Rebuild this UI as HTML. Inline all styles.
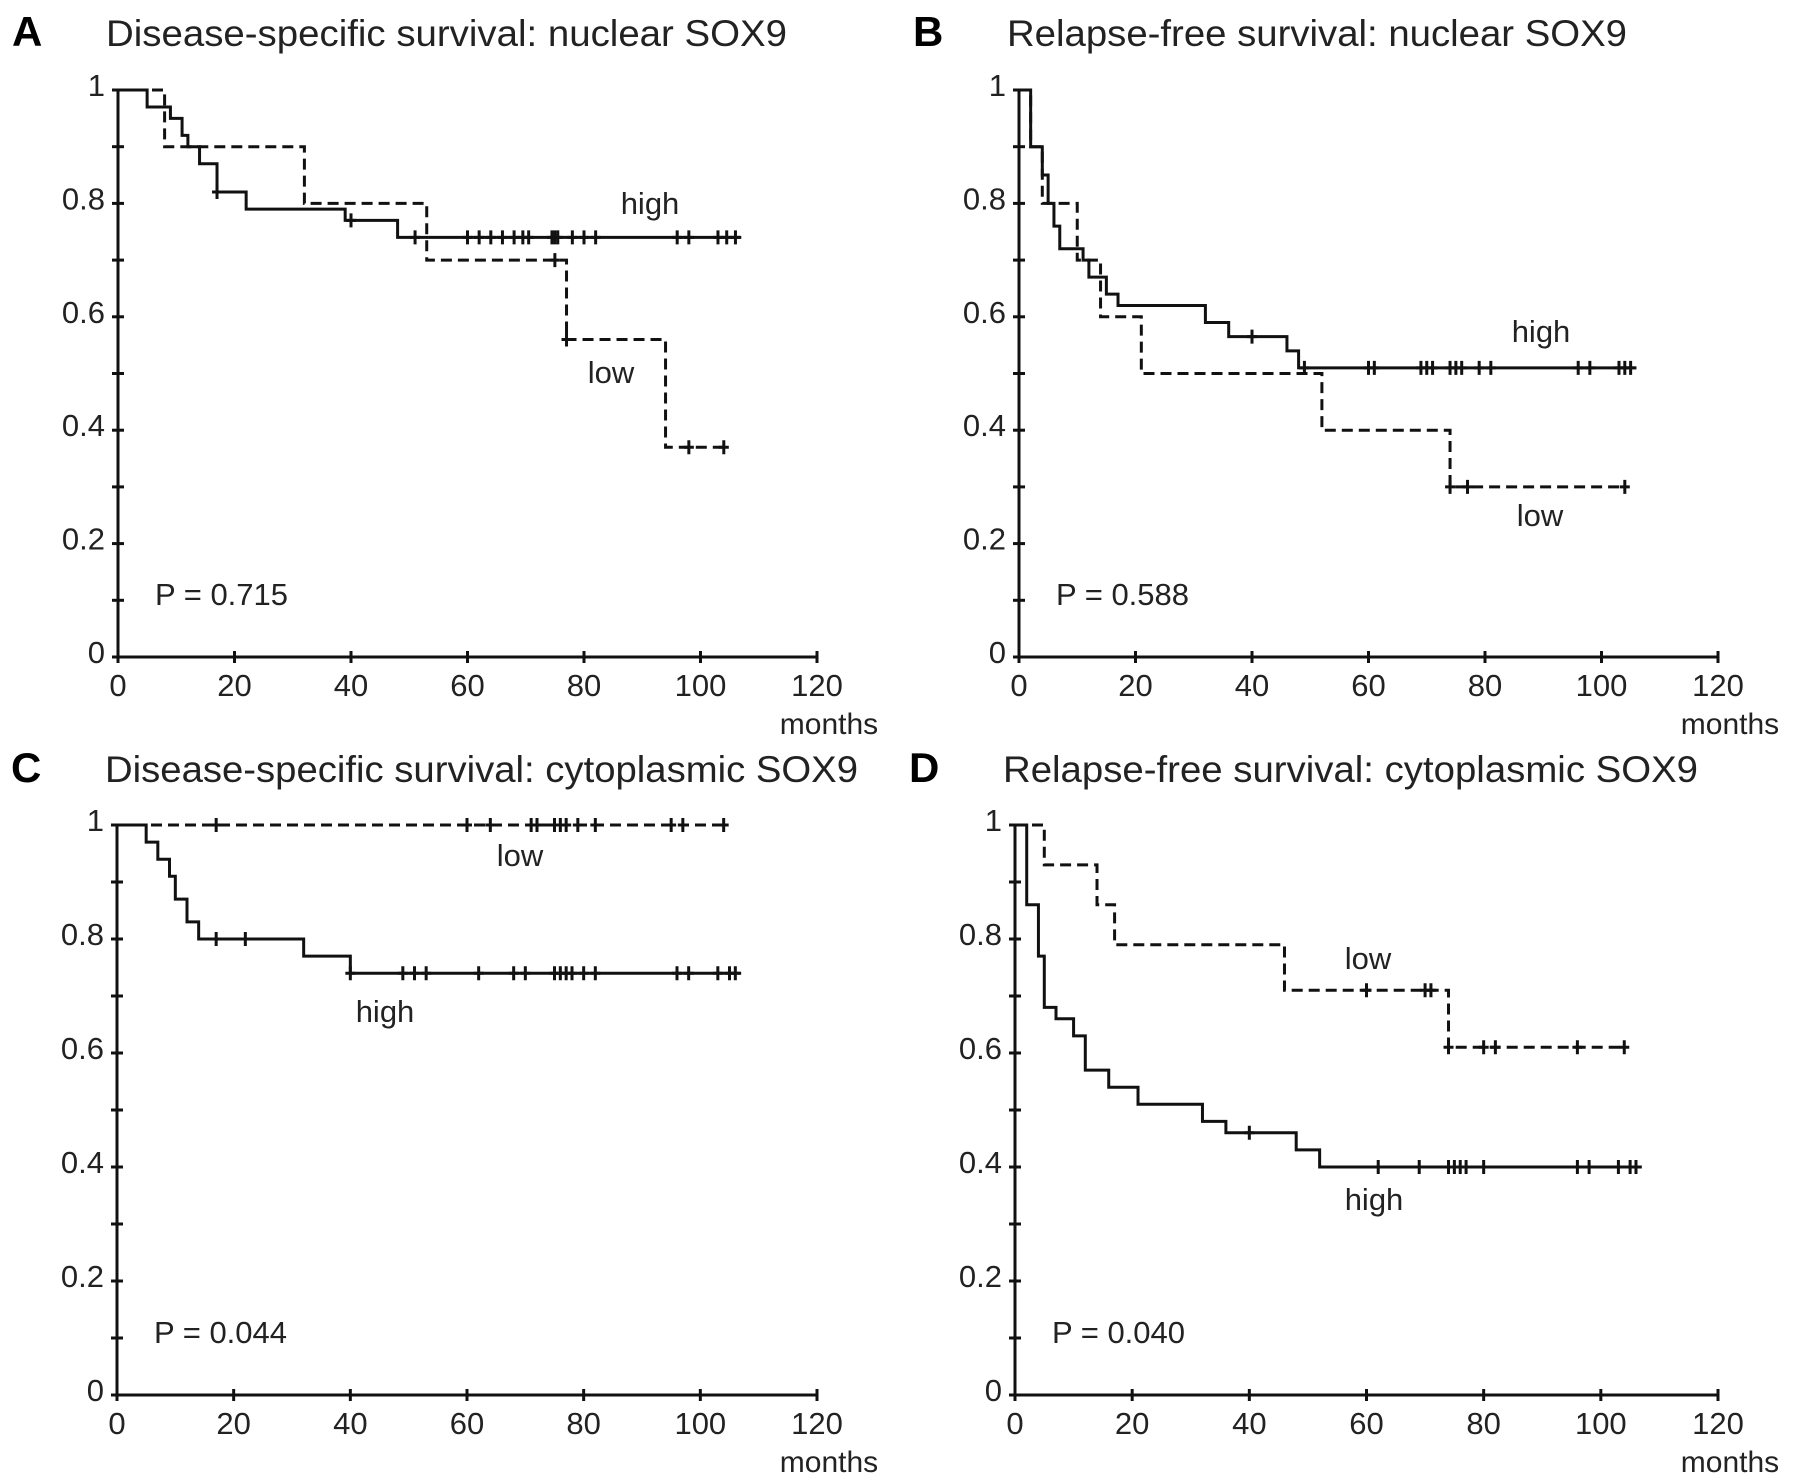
<!DOCTYPE html>
<html><head><meta charset="utf-8"><style>
html,body{margin:0;padding:0;background:#fff;}
svg{display:block;font-family:"Liberation Sans",Arial,sans-serif;}
</style></head><body>
<svg id="fig" width="1795" height="1482" viewBox="0 0 1795 1482" xmlns="http://www.w3.org/2000/svg"></svg>
<script>
// Panel A: disease-specific survival, nuclear SOX9
const aHighT=[0,5,9,11,12,14,17,22,39,48,107];
const aHighS=[1,0.97,0.95,0.92,0.90,0.87,0.82,0.79,0.77,0.74,0.74];
const aHighC=[17,40,51,60,62,64,66,68,69.5,70.5,74.5,75,75.5,78,80,82,96,98,103,104.5,106];
const aLowT=[0,8,32,53,77,94,104.5];
const aLowS=[1,0.90,0.80,0.70,0.56,0.37,0.37];
const aLowC=[75,77,98,104];
// Panel B: relapse-free survival, nuclear SOX9
const bHighT=[0,2,4,5,6,7,11,12,15,17,32,36,46,48,106];
const bHighS=[1,0.90,0.85,0.80,0.76,0.72,0.70,0.67,0.64,0.62,0.59,0.565,0.54,0.51,0.51];
const bHighC=[40,49,60,61,69,70,71,74,75,76,79,81,96,98,103,104,105];
const bLowT=[0,2,4,10,14,21,52,74,104];
const bLowS=[1,0.90,0.80,0.70,0.60,0.50,0.40,0.30,0.30];
const bLowC=[74,77,104];
// Panel C: disease-specific survival, cytoplasmic SOX9
const cHighT=[0,5,7,9,10,12,14,17,32,40,107];
const cHighS=[1,0.97,0.94,0.91,0.87,0.83,0.80,0.80,0.77,0.74,0.74];
const cHighC=[17,22,40,49,51,53,62,68,70,75,76,77,78,80,82,96,98,103,105,106];
const cLowT=[0,104];
const cLowS=[1,1];
const cLowC=[17,60,64,71,72,75,76,77,79,82,95,97,104];
// Panel D: relapse-free survival, cytoplasmic SOX9
const dHighT=[0,2,4,5,7,10,12,16,21,32,36,48,52,107];
const dHighS=[1,0.86,0.77,0.68,0.66,0.63,0.57,0.54,0.51,0.48,0.46,0.43,0.40,0.40];
const dHighC=[40,62,69,74,75,76,77,80,96,98,103,105,106];
const dLowT=[0,5,14,17,46,74,104];
const dLowS=[1,0.93,0.86,0.79,0.71,0.61,0.61];
const dLowC=[60,70,71,74,80,82,96,104];
const xTicks=[0,20,40,60,80,100,120];
const yTickLabels=["0","0.2","0.4","0.6","0.8","1"];

const NS="http://www.w3.org/2000/svg";
const svg=document.getElementById('fig');
function mk(tag,attrs,parent){const e=document.createElementNS(NS,tag);for(const k in attrs)e.setAttribute(k,attrs[k]);(parent||svg).appendChild(e);return e;}

const panels=[
 {id:'a',letter:'A',title:'Disease-specific survival: nuclear SOX9',tw:681,x0:118,x1:817,y0:657,y1:90,ty:46,
  hi:[aHighT,aHighS,aHighC],lo:[aLowT,aLowS,aLowC],p:'P = 0.715',hiLab:[650,214],loLab:[611,383]},
 {id:'b',letter:'B',title:'Relapse-free survival: nuclear SOX9',tw:620,x0:1019,x1:1718,y0:657,y1:90,ty:46,
  hi:[bHighT,bHighS,bHighC],lo:[bLowT,bLowS,bLowC],p:'P = 0.588',hiLab:[1541,342],loLab:[1540,526]},
 {id:'c',letter:'C',title:'Disease-specific survival: cytoplasmic SOX9',tw:753,x0:117,x1:817,y0:1395,y1:825,ty:782,
  hi:[cHighT,cHighS,cHighC],lo:[cLowT,cLowS,cLowC],p:'P = 0.044',hiLab:[385,1022],loLab:[520,866]},
 {id:'d',letter:'D',title:'Relapse-free survival: cytoplasmic SOX9',tw:695,x0:1015,x1:1718,y0:1395,y1:825,ty:782,
  hi:[dHighT,dHighS,dHighC],lo:[dLowT,dLowS,dLowC],p:'P = 0.040',hiLab:[1374,1210],loLab:[1368,969]}
];

panels.forEach(P=>{
  const g=mk('g',{});
  
  
  const xs=t=>P.x0+(P.x1-P.x0)*t/120;
  const ys=s=>P.y0-(P.y0-P.y1)*s;
  const L=mk('text',{x:P.x0-106,y:P.ty,'font-size':42,'font-weight':'bold'},g);L.textContent=P.letter;
  
  
  const T=mk('text',{x:P.x0-12,y:P.ty,'font-size':37,textLength:P.tw,lengthAdjust:'spacingAndGlyphs',fill:'#222'},g);T.textContent=P.title;
  
  
  const ax=mk('path',{d:`M${P.x0},${P.y1} V${P.y0} H${P.x1}`,stroke:'#111','stroke-width':3,fill:'none'},g);
  
  
  for(let i=0;i<=10;i++){
    const y=ys(i/10);
    const tk=mk('line',{x1:P.x0-6,x2:P.x0+6,y1:y,y2:y,stroke:'#111','stroke-width':3},g);
    
    
  }
  yTickLabels.forEach((lab,i)=>{
    const t=mk('text',{x:P.x0-13,y:ys(i*0.2)+6,'font-size':31,'text-anchor':'end',fill:'#222'},g);t.textContent=lab;
    
    
  });
  xTicks.forEach(v=>{
    const x=xs(v);
    const tk=mk('line',{x1:x,x2:x,y1:P.y0-6,y2:P.y0+6,stroke:'#111','stroke-width':3},g);
    
    
    const t=mk('text',{x:x,y:P.y0+39,'font-size':31,'text-anchor':'middle',fill:'#222'},g);t.textContent=v;
    
    
  });
  const m=mk('text',{x:P.x1+12,y:P.y0+77,'font-size':30,'text-anchor':'middle',fill:'#222'},g);m.textContent='months';
  
  
  const pv=mk('text',{x:P.x0+37,y:P.y0-52,'font-size':31,fill:'#222'},g);pv.textContent=P.p;
  
  
  function curve(T,S,C,dash,name){
    let d=`M${xs(T[0])},${ys(S[0])}`;
    for(let i=1;i<T.length;i++){d+=` H${xs(T[i])} V${ys(S[i])}`;}
    const p=mk('path',{d:d,stroke:'#111','stroke-width':3,fill:'none','stroke-dasharray':dash?'11,6':'none'},g);
    
    
    C.forEach(c=>{
      let s=S[0];for(let i=0;i<T.length;i++){if(T[i]<=c)s=S[i];}
      const cx=xs(c),cy=ys(s);
      const cm=mk('path',{d:`M${cx},${cy-7} V${cy+7} M${cx-5},${cy} H${cx+5}`,stroke:'#111','stroke-width':3},g);
      
      
    });
  }
  curve(P.lo[0],P.lo[1],P.lo[2],true,'low');
  curve(P.hi[0],P.hi[1],P.hi[2],false,'high');
  const hl=mk('text',{x:P.hiLab[0],y:P.hiLab[1],'font-size':31,'text-anchor':'middle',fill:'#222'},g);hl.textContent='high';
  
  
  const ll=mk('text',{x:P.loLab[0],y:P.loLab[1],'font-size':31,'text-anchor':'middle',fill:'#222'},g);ll.textContent='low';
  
  
});
</script>
</body></html>
